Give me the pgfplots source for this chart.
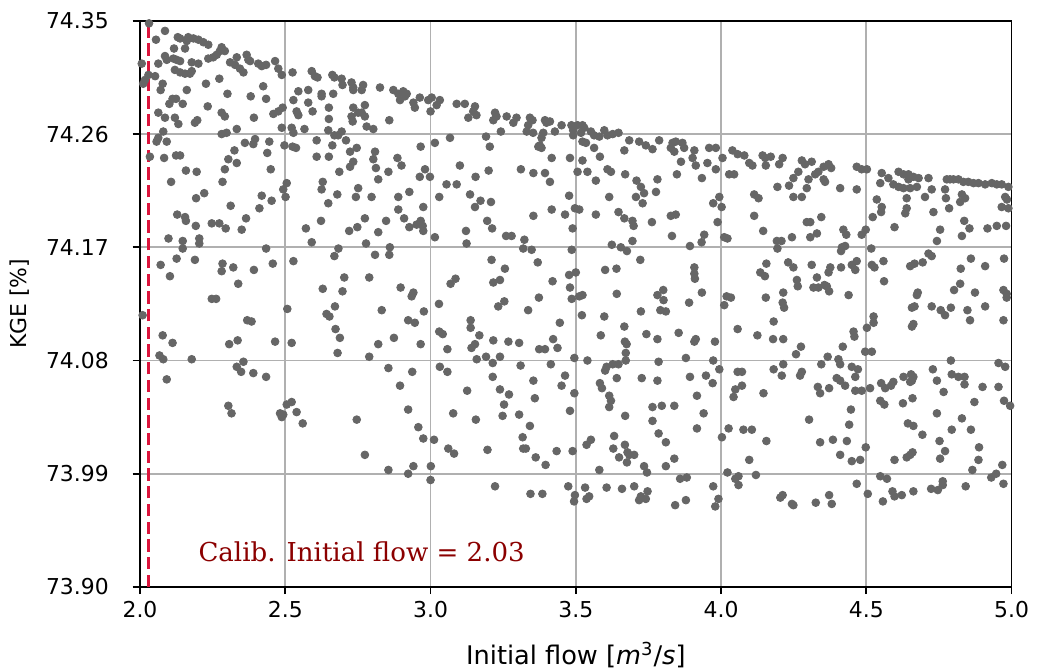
\documentclass[border=0pt]{standalone}
\usepackage{fontspec}
\setmainfont{DejaVu Sans}
\newfontfamily\serifdv{DejaVu Serif}
\usepackage{pgfplots}
\usepackage{pgfplotstable}
\pgfplotsset{compat=1.18}
\usetikzlibrary{calc}
\definecolor{ptgray}{HTML}{666666}
\definecolor{gridgray}{HTML}{B0B0B0}
\definecolor{calibred}{HTML}{DC143C}
\definecolor{txtred}{HTML}{8B0000}
\pgfplotstableread{
x y
2.031 74.348
2.086 74.342
2.055 74.335
2.130 74.337
2.138 74.336
2.166 74.337
2.184 74.336
2.201 74.335
2.218 74.333
2.235 74.331
2.161 74.334
2.155 74.328
2.117 74.328
2.281 74.329
2.275 74.326
2.264 74.323
2.252 74.321
2.235 74.320
2.292 74.326
2.006 74.316
2.063 74.316
2.086 74.322
2.092 74.319
2.115 74.320
2.126 74.319
2.138 74.318
2.178 74.317
2.201 74.316
2.333 74.321
2.367 74.323
2.373 74.319
2.310 74.317
2.327 74.315
2.344 74.312
2.356 74.309
2.379 74.318
2.407 74.316
2.419 74.314
2.434 74.315
2.465 74.318
2.476 74.312
2.488 74.307
2.120 74.311
2.138 74.309
2.155 74.308
2.172 74.308
2.178 74.310
2.029 74.307
2.052 74.306
2.017 74.303
2.011 74.300
2.078 74.300
2.071 74.295
2.273 74.304
2.227 74.300
2.161 74.295
2.424 74.298
2.301 74.292
2.381 74.290
2.434 74.288
2.525 74.309
2.591 74.310
2.602 74.306
2.611 74.305
2.662 74.307
2.669 74.305
2.694 74.304
2.697 74.299
2.728 74.301
2.734 74.295
2.734 74.297
2.545 74.294
2.579 74.295
2.625 74.292
2.625 74.290
2.665 74.292
2.112 74.288
2.101 74.284
2.124 74.288
2.147 74.284
2.233 74.282
2.063 74.277
2.086 74.273
2.120 74.273
2.132 74.268
2.189 74.269
2.197 74.271
2.281 74.277
2.292 74.274
2.392 74.273
2.459 74.276
2.476 74.278
2.491 74.281
2.528 74.287
2.579 74.285
2.594 74.278
2.545 74.275
2.539 74.278
2.650 74.281
2.650 74.272
2.734 74.281
2.751 74.277
2.728 74.274
2.732 74.270
2.333 74.264
2.281 74.260
2.298 74.261
2.488 74.265
2.522 74.265
2.528 74.261
2.566 74.264
2.648 74.263
2.669 74.259
2.694 74.262
2.682 74.259
2.063 74.257
2.080 74.262
2.092 74.254
2.057 74.254
2.361 74.253
2.396 74.256
2.390 74.252
2.445 74.254
2.497 74.251
2.525 74.250
2.537 74.249
2.608 74.255
2.608 74.242
2.662 74.251
2.650 74.242
2.709 74.255
2.723 74.246
2.746 74.249
2.034 74.242
2.083 74.241
2.124 74.243
2.138 74.243
2.325 74.247
2.304 74.240
2.333 74.237
2.438 74.245
2.158 74.231
2.195 74.230
2.292 74.232
2.450 74.232
2.686 74.230
2.723 74.234
2.734 74.238
2.107 74.222
2.284 74.222
2.505 74.221
2.493 74.216
2.501 74.210
2.629 74.222
2.625 74.216
2.679 74.212
2.751 74.217
2.743 74.210
2.193 74.209
2.221 74.213
2.419 74.211
2.453 74.207
2.648 74.205
2.768 74.299
2.763 74.295
2.774 74.283
2.763 74.277
2.774 74.274
2.780 74.266
2.803 74.264
2.826 74.297
2.872 74.295
2.889 74.292
2.906 74.294
2.918 74.292
2.895 74.287
2.912 74.290
2.941 74.285
2.946 74.281
2.963 74.289
2.992 74.287
3.004 74.289
3.032 74.287
3.021 74.283
3.000 74.278
2.858 74.271
3.090 74.284
3.118 74.284
3.153 74.282
3.147 74.278
3.158 74.275
3.130 74.273
3.222 74.277
3.227 74.274
3.216 74.271
3.262 74.274
3.296 74.273
3.285 74.269
3.342 74.273
3.351 74.271
3.336 74.267
3.331 74.262
3.353 74.261
3.394 74.271
3.399 74.269
3.411 74.270
3.388 74.261
3.382 74.257
3.376 74.251
3.371 74.250
3.382 74.249
3.242 74.262
3.428 74.262
3.451 74.267
3.485 74.267
3.491 74.263
3.491 74.259
2.966 74.250
3.015 74.253
3.067 74.257
3.191 74.258
3.204 74.250
2.809 74.246
2.803 74.240
2.812 74.233
2.820 74.224
2.797 74.210
2.886 74.241
2.900 74.235
2.855 74.230
2.981 74.232
2.963 74.226
2.998 74.226
3.101 74.235
3.055 74.220
3.090 74.220
3.155 74.226
3.200 74.231
3.311 74.232
3.354 74.229
3.394 74.229
3.411 74.222
3.417 74.241
3.480 74.241
2.927 74.214
2.889 74.210
3.030 74.210
3.136 74.212
3.172 74.207
3.208 74.206
3.477 74.211
3.506 74.267
3.523 74.267
3.529 74.265
3.518 74.261
3.552 74.262
3.563 74.259
3.581 74.258
3.598 74.263
3.609 74.259
3.627 74.260
3.647 74.261
3.523 74.254
3.535 74.253
3.684 74.255
3.718 74.254
3.741 74.251
3.764 74.248
3.787 74.255
3.833 74.253
3.844 74.254
3.867 74.253
3.873 74.249
3.827 74.249
3.839 74.246
3.908 74.247
3.959 74.249
3.982 74.249
4.005 74.241
3.563 74.249
3.667 74.247
3.583 74.242
3.523 74.239
3.506 74.230
3.540 74.230
3.609 74.232
3.621 74.230
3.569 74.223
3.670 74.228
3.862 74.238
3.902 74.241
3.913 74.235
3.953 74.237
3.982 74.232
3.934 74.225
3.848 74.228
3.709 74.223
3.724 74.218
3.781 74.224
3.776 74.214
3.735 74.213
3.707 74.210
3.730 74.205
3.615 74.210
3.994 74.210
3.973 74.205
4.039 74.247
4.057 74.244
4.080 74.243
4.097 74.237
4.108 74.235
4.143 74.243
4.152 74.241
4.171 74.242
4.154 74.235
4.200 74.236
4.212 74.241
4.028 74.228
4.045 74.228
4.114 74.212
4.129 74.209
4.194 74.218
4.234 74.219
4.278 74.239
4.289 74.236
4.312 74.238
4.266 74.230
4.249 74.225
4.301 74.224
4.324 74.228
4.335 74.230
4.353 74.224
4.358 74.222
4.353 74.234
4.370 74.236
4.379 74.233
4.295 74.217
4.278 74.210
4.249 74.210
4.410 74.217
4.467 74.216
4.467 74.234
4.484 74.232
4.502 74.232
4.553 74.229
4.548 74.221
4.576 74.225
4.611 74.230
4.628 74.228
4.645 74.228
4.662 74.226
4.680 74.225
4.593 74.220
4.611 74.218
4.628 74.217
4.651 74.217
4.674 74.218
4.645 74.224
4.714 74.225
4.639 74.209
4.702 74.210
4.725 74.216
4.771 74.216
4.777 74.224
4.788 74.224
4.800 74.224
4.817 74.224
4.834 74.222
4.851 74.222
4.869 74.221
4.886 74.221
4.909 74.220
4.932 74.221
4.949 74.220
4.966 74.220
4.989 74.218
4.840 74.209
4.829 74.212
4.823 74.206
4.774 74.209
4.978 74.210
4.984 74.208
4.536 74.208
2.312 74.203
2.411 74.201
2.128 74.196
2.155 74.194
2.158 74.191
2.192 74.187
2.247 74.189
2.273 74.189
2.295 74.185
2.365 74.193
2.350 74.184
2.098 74.177
2.147 74.175
2.204 74.177
2.204 74.173
2.147 74.169
2.434 74.169
2.571 74.185
2.623 74.191
2.591 74.174
2.720 74.183
2.748 74.186
2.683 74.169
2.669 74.163
2.071 74.156
2.126 74.161
2.189 74.160
2.103 74.147
2.284 74.157
2.281 74.151
2.321 74.154
2.392 74.152
2.457 74.157
2.528 74.159
2.338 74.141
2.703 74.146
2.629 74.137
2.697 74.135
2.247 74.129
2.262 74.129
2.009 74.116
2.507 74.121
2.671 74.123
2.642 74.117
2.652 74.115
2.369 74.112
2.384 74.111
2.078 74.100
2.112 74.094
2.307 74.093
2.336 74.096
2.465 74.095
2.522 74.094
2.673 74.105
2.688 74.098
2.680 74.086
2.067 74.084
2.080 74.081
2.178 74.081
2.356 74.079
2.333 74.075
2.348 74.071
2.390 74.070
2.434 74.067
2.092 74.065
2.889 74.200
2.975 74.202
3.153 74.202
2.774 74.193
2.847 74.191
2.820 74.182
2.909 74.193
2.927 74.186
2.952 74.188
2.966 74.191
2.973 74.187
2.975 74.183
3.015 74.178
3.122 74.183
3.124 74.173
3.195 74.191
3.212 74.185
3.260 74.179
3.279 74.179
3.323 74.176
3.319 74.169
3.348 74.168
3.369 74.158
3.354 74.195
3.417 74.200
3.463 74.196
3.489 74.185
3.486 74.168
3.497 74.201
2.778 74.173
2.860 74.170
2.858 74.164
2.809 74.164
2.789 74.146
2.897 74.138
2.935 74.131
2.941 74.134
2.832 74.120
2.923 74.112
2.946 74.110
2.977 74.119
3.069 74.141
3.086 74.145
3.029 74.125
3.210 74.160
3.256 74.153
3.216 74.142
3.239 74.144
3.233 74.123
3.254 74.127
3.336 74.120
3.373 74.130
3.420 74.143
3.477 74.148
3.480 74.138
3.486 74.129
3.445 74.110
3.138 74.112
3.138 74.106
3.168 74.100
3.030 74.103
3.042 74.101
3.058 74.089
3.141 74.090
3.153 74.093
3.216 74.096
3.268 74.095
3.305 74.094
3.374 74.089
3.394 74.089
3.422 74.097
3.437 74.090
2.789 74.083
2.820 74.093
2.874 74.098
2.966 74.093
2.855 74.074
2.937 74.071
2.895 74.060
3.032 74.075
3.058 74.071
3.159 74.081
3.191 74.083
3.214 74.078
3.239 74.083
3.310 74.076
3.354 74.064
3.414 74.077
3.463 74.068
3.451 74.060
3.495 74.082
3.214 74.067
3.126 74.056
3.239 74.057
3.270 74.053
3.495 74.054
3.512 74.200
3.569 74.196
3.647 74.198
3.667 74.193
3.695 74.191
3.699 74.187
3.762 74.190
3.827 74.195
3.844 74.196
3.831 74.179
4.002 74.202
3.988 74.190
3.942 74.180
3.933 74.174
3.893 74.171
4.011 74.178
4.022 74.177
4.114 74.195
4.145 74.183
4.192 74.175
4.208 74.175
4.194 74.169
3.624 74.172
3.655 74.170
3.676 74.167
3.695 74.175
3.722 74.160
3.500 74.150
3.601 74.152
3.640 74.153
3.908 74.154
3.908 74.149
3.910 74.145
4.156 74.157
4.135 74.150
4.151 74.147
4.231 74.158
3.512 74.131
3.523 74.132
3.641 74.133
3.781 74.132
3.801 74.136
3.802 74.128
3.791 74.120
3.810 74.119
3.724 74.119
3.890 74.126
3.934 74.134
4.019 74.131
4.034 74.130
4.011 74.124
4.154 74.130
4.214 74.134
4.212 74.126
4.217 74.122
3.521 74.116
3.598 74.115
3.667 74.107
3.586 74.100
3.743 74.101
3.781 74.097
3.854 74.102
3.669 74.095
3.675 74.093
3.908 74.095
3.913 74.097
3.979 74.095
4.057 74.105
4.125 74.100
4.181 74.111
4.179 74.097
4.214 74.097
3.540 74.080
3.672 74.086
3.672 74.080
3.647 74.077
3.627 74.077
3.606 74.075
3.601 74.072
3.641 74.066
3.727 74.066
3.781 74.064
3.785 74.079
3.879 74.082
3.893 74.067
3.948 74.068
3.971 74.062
3.973 74.080
3.994 74.073
4.057 74.071
4.072 74.071
4.049 74.057
4.072 74.060
4.181 74.073
4.214 74.077
4.209 74.068
3.583 74.062
3.590 74.058
4.146 74.054
4.553 74.202
4.551 74.198
4.522 74.194
4.639 74.201
4.634 74.197
4.731 74.198
4.785 74.201
4.966 74.202
4.989 74.201
4.345 74.194
4.295 74.190
4.307 74.190
4.597 74.186
4.307 74.178
4.330 74.181
4.244 74.178
4.421 74.184
4.431 74.180
4.484 74.180
4.498 74.184
4.517 74.169
4.416 74.170
4.427 74.171
4.413 74.167
4.754 74.184
4.743 74.175
4.837 74.191
4.829 74.179
4.855 74.185
4.917 74.185
4.949 74.187
4.981 74.187
4.249 74.154
4.312 74.156
4.376 74.154
4.413 74.154
4.450 74.156
4.467 74.159
4.462 74.152
4.519 74.156
4.528 74.154
4.559 74.159
4.261 74.144
4.264 74.139
4.370 74.150
4.330 74.146
4.318 74.138
4.335 74.138
4.356 74.140
4.364 74.139
4.372 74.135
4.439 74.132
4.561 74.143
4.651 74.155
4.666 74.157
4.694 74.158
4.714 74.165
4.725 74.163
4.825 74.153
4.860 74.161
4.909 74.155
4.974 74.161
4.823 74.141
4.802 74.136
4.874 74.134
4.972 74.136
4.983 74.133
4.983 74.130
4.677 74.134
4.674 74.132
4.657 74.122
4.666 74.123
4.725 74.123
4.756 74.120
4.771 74.116
4.791 74.122
4.848 74.120
4.909 74.123
4.857 74.112
4.972 74.112
4.525 74.115
4.525 74.110
4.502 74.106
4.456 74.103
4.459 74.099
4.657 74.107
4.662 74.109
4.275 74.091
4.258 74.085
4.419 74.091
4.367 74.083
4.404 74.081
4.410 74.077
4.345 74.077
4.496 74.087
4.519 74.087
4.278 74.071
4.272 74.068
4.450 74.075
4.471 74.073
4.462 74.067
4.398 74.066
4.410 74.064
4.427 74.060
4.333 74.059
4.341 74.054
4.372 74.058
4.462 74.056
4.484 74.056
4.513 74.058
4.551 74.062
4.565 74.058
4.585 74.060
4.593 74.063
4.628 74.067
4.654 74.069
4.662 74.067
4.657 74.064
4.651 74.063
4.729 74.073
4.743 74.064
4.791 74.080
4.794 74.069
4.817 74.067
4.838 74.067
4.838 74.061
4.900 74.059
4.955 74.059
4.955 74.078
4.978 74.075
4.766 74.055
2.304 74.044
2.315 74.038
2.482 74.038
2.488 74.035
2.493 74.037
2.505 74.045
2.522 74.047
2.539 74.039
2.560 74.030
2.746 74.033
2.774 74.005
2.923 74.041
2.958 74.027
2.975 74.018
3.012 74.017
2.855 73.993
2.923 73.990
2.941 73.996
3.001 73.996
3.000 73.985
3.061 74.010
3.081 74.006
3.078 74.038
3.156 74.033
3.196 74.009
3.248 74.036
3.253 74.045
3.305 74.037
3.342 74.028
3.317 74.019
3.319 74.010
3.328 74.010
3.362 74.003
3.396 73.997
3.359 74.050
3.434 74.008
3.489 74.008
3.480 74.040
3.222 73.980
3.344 73.974
3.385 73.974
3.474 73.980
3.497 73.973
3.494 73.968
3.615 74.052
3.621 74.048
3.615 74.043
3.670 74.036
3.764 74.043
3.796 74.044
3.839 74.044
3.917 74.052
3.940 74.038
3.917 74.026
3.764 74.032
3.785 74.022
3.810 74.015
3.632 74.020
3.537 74.013
3.552 74.017
3.629 74.010
3.669 74.013
3.649 74.003
3.678 74.007
3.684 74.005
3.701 74.005
3.676 73.999
3.735 73.996
3.745 73.991
3.810 73.996
3.839 74.002
3.581 73.993
3.532 73.979
3.606 73.979
3.659 73.978
3.701 73.980
3.747 73.976
3.724 73.972
3.718 73.969
3.741 73.970
3.537 73.970
3.546 73.972
3.859 73.986
3.882 73.987
3.973 73.980
3.991 73.970
3.980 73.964
3.879 73.969
3.842 73.965
4.003 74.019
4.026 74.026
4.077 74.025
4.106 74.025
4.156 74.016
4.043 74.051
4.022 73.991
4.049 73.986
4.060 73.988
4.060 73.981
4.097 74.001
4.120 73.989
4.204 73.971
4.212 73.973
4.244 73.966
4.548 74.048
4.562 74.045
4.626 74.046
4.659 74.050
4.872 74.047
4.974 74.048
4.995 74.044
4.303 74.033
4.447 74.041
4.441 74.029
4.341 74.015
4.385 74.017
4.433 74.016
4.410 74.005
4.450 74.000
4.479 74.001
4.498 74.011
4.597 74.001
4.639 74.003
4.651 74.005
4.659 74.007
4.643 74.030
4.662 74.028
4.693 74.021
4.743 74.038
4.752 74.016
4.771 74.008
4.754 74.002
4.794 74.025
4.829 74.034
4.860 74.025
4.888 74.011
4.886 74.001
4.865 73.993
4.968 73.997
4.249 73.965
4.326 73.967
4.372 73.973
4.381 73.966
4.467 73.982
4.505 73.974
4.548 73.988
4.571 73.986
4.557 73.968
4.590 73.976
4.597 73.972
4.622 73.973
4.662 73.976
4.723 73.978
4.746 73.977
4.763 73.984
4.763 73.981
4.842 73.980
4.930 73.987
4.947 73.990
4.972 73.982
}\pts
\begin{document}
\begin{tikzpicture}
\begin{axis}[name=ax, scale only axis, width=418.3pt, height=271.7pt,
  xmin=2, xmax=5, ymin=73.90, ymax=74.35,
  xtick={2,2.5,3,3.5,4,4.5,5},
  xticklabels={2.0,2.5,3.0,3.5,4.0,4.5,5.0},
  ytick={73.90,73.99,74.08,74.17,74.26,74.35},
  yticklabels={73.90,73.99,74.08,74.17,74.26,74.35},
  grid=major, major grid style={gridgray, line width=0.8pt},
  axis line style={black, line width=0.8pt},
  tick align=outside, major tick length=3.5pt,
  tick style={black, line width=0.8pt},
  xtick pos=lower, ytick pos=left,
  ticklabel style={font=\fontsize{10.5}{12}\selectfont},
  yticklabel style={xshift=-8pt},
  every axis x label/.style={at={(axis description cs:0.5,-0.1196)}, anchor=center, font=\fontsize{12.3}{14}\selectfont},
  every axis y label/.style={at={(axis description cs:-0.1376,0.5)}, rotate=90, anchor=center, font=\fontsize{10.5}{12}\selectfont},
  xlabel={Initial flow [\textit{m}\textsuperscript{3}/\textit{s}]},
  ylabel={KGE [\%]},
]
\addplot[only marks, mark=*, mark size=1.85pt, color=ptgray, mark options={draw=none, fill=ptgray}] table[x=x, y=y] {\pts};
\addplot[calibred, line width=1.6pt, dash pattern=on 5.9pt off 2.6pt] coordinates {(2.03,73.90) (2.03,74.35)};
\node[anchor=base west, text=txtred, inner sep=0pt, font=\serifdv\fontsize{12.5}{15}\selectfont] at (axis cs:2.2,73.92) {Calib. Initial flow = 2.03};
\end{axis}
\pgfresetboundingbox
\path[use as bounding box] ($(ax.south west)+(-67.2pt,-40.2pt)$) rectangle ($(ax.north east)+(12.2pt,10pt)$);
\end{tikzpicture}
\end{document}
